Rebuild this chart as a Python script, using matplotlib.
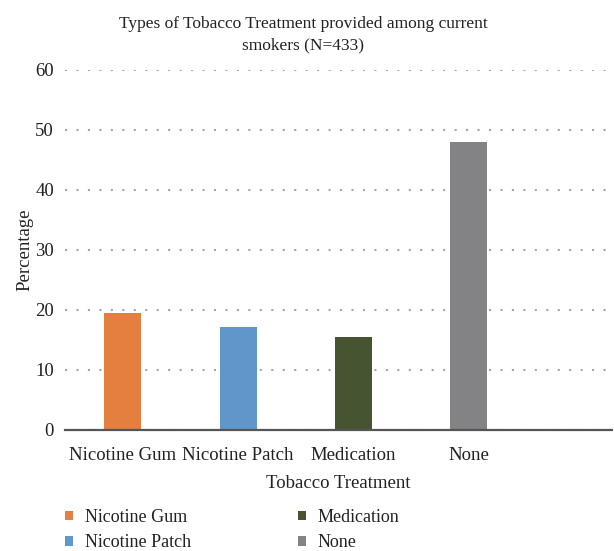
import matplotlib.pyplot as plt
from matplotlib.patches import Patch

categories = ['Nicotine Gum', 'Nicotine Patch', 'Medication', 'None']
percentages = [19.5, 17.2, 15.5, 48.0]
colors = ['#E47F3F', '#6097CB', '#475431', '#838386']

plt.rcParams['font.family'] = ['Liberation Serif', 'DejaVu Serif']

fig = plt.figure(figsize=(6.14, 5.51), dpi=100)
# axes placed in pixel terms: left 65, right 612, bottom 430, top 70 (of 551)
ax = fig.add_axes([65 / 614, 1 - 430 / 551, (612 - 65) / 614, (430 - 70) / 551])

x = list(range(len(categories)))
ax.bar(x, percentages, width=0.32, color=colors, zorder=3)

ax.set_ylim(0, 60)
ax.set_xlim(-0.5, 4.24)
ax.set_yticks(range(0, 61, 10))
ax.set_xticks(x)
ax.set_xticklabels(categories)
ax.tick_params(axis='both', length=0, labelsize=13.5, colors='#222222')
ax.tick_params(axis='y', pad=8)
ax.tick_params(axis='x', pad=12)

# dotted gridlines
ax.yaxis.grid(True, linestyle=(0, (1, 4.5)), color='#A6A6A6', linewidth=1.5, zorder=0)
for s in ['top', 'right', 'left']:
    ax.spines[s].set_visible(False)
ax.spines['bottom'].set_color('#555555')
ax.spines['bottom'].set_linewidth(1.6)
ax.spines['bottom'].set_zorder(4)

ax.set_ylabel('Percentage', fontsize=13.5, color='#222222', labelpad=1)
ax.set_xlabel('Tobacco Treatment', fontsize=13.5, color='#222222', labelpad=8)

fig.text(303 / 614, 1 - 35 / 551, 'Types of Tobacco Treatment provided among current\nsmokers (N=433)',
         ha='center', va='center', fontsize=12.5, color='#222222', linespacing=1.45)

handles = [Patch(facecolor=c) for c in colors]
leg = fig.legend(handles, categories, ncol=2,
                 loc='upper left', bbox_to_anchor=(65 / 614, 1 - 509 / 551), frameon=False,
                 borderpad=0, borderaxespad=0,
                 fontsize=13, handlelength=0.45, handleheight=0.45, handletextpad=0.65,
                 columnspacing=5.9, labelspacing=0.45)
for t in leg.get_texts():
    t.set_color('#222222')

fig.savefig('out.png', dpi=100)
